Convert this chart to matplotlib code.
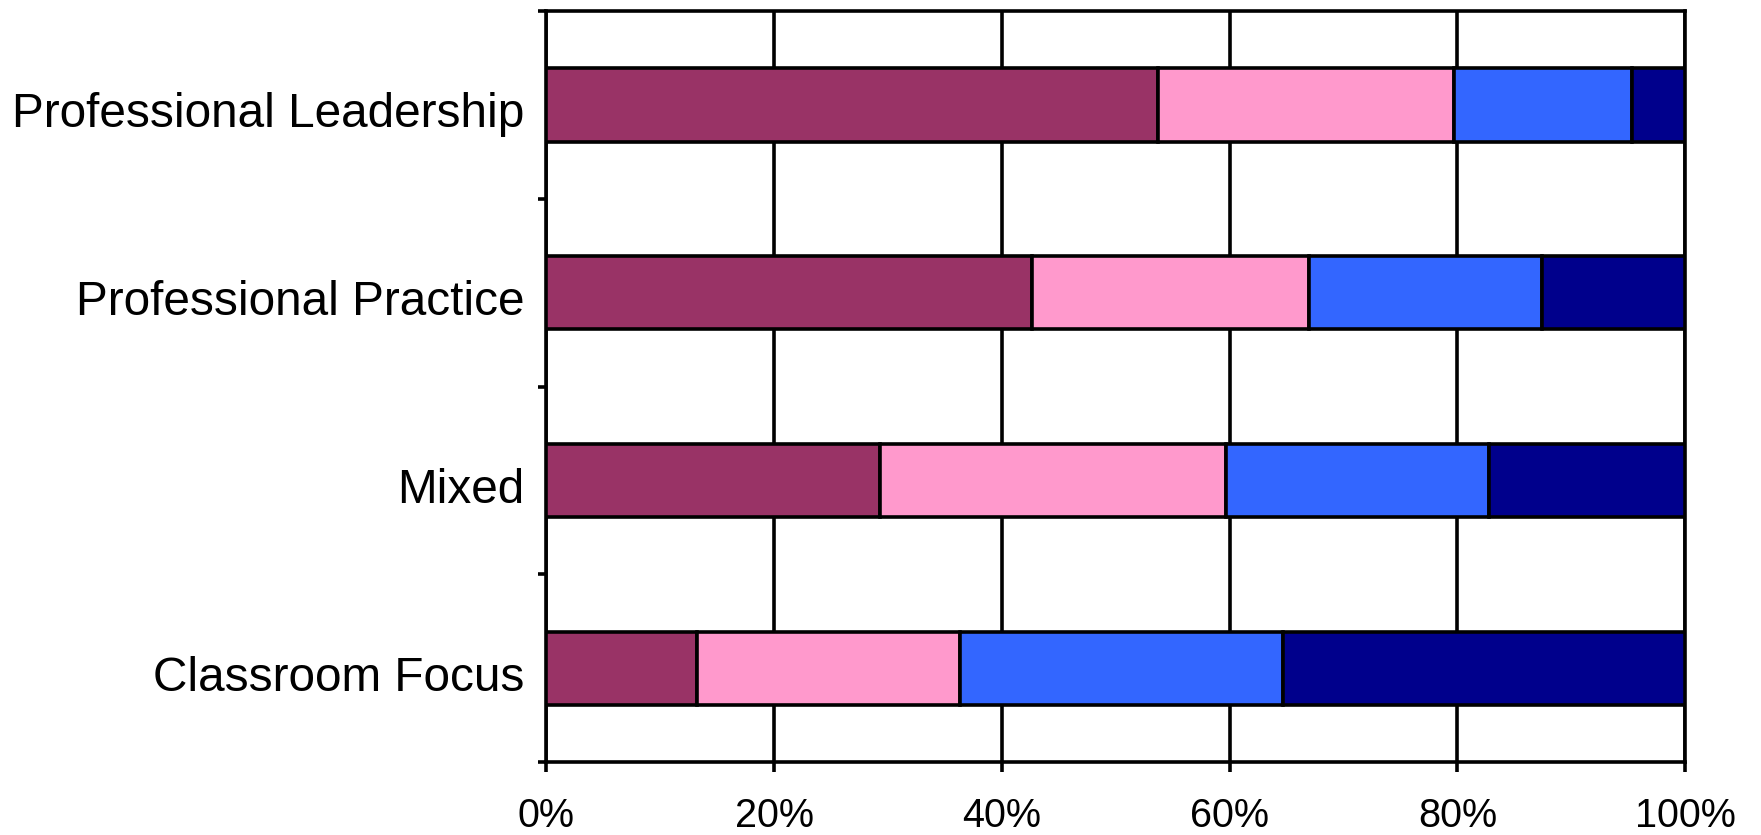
import matplotlib.pyplot as plt
import matplotlib.transforms as mtransforms
import numpy as np

plt.rcParams["font.family"] = ["Liberation Sans", "DejaVu Sans"]

# categories bottom to top
categories = ["Classroom Focus", "Mixed", "Professional Practice", "Professional Leadership"]

# share of each segment in percent
seg_maroon = [13.2, 29.3, 42.6, 53.7]
seg_pink = [23.1, 30.4, 24.4, 26.0]
seg_blue = [28.4, 23.1, 20.4, 15.6]
seg_navy = [35.3, 17.2, 12.6, 4.7]

colors = ["#993366", "#FF99CC", "#3366FF", "#00008C"]
xticks = [0, 20, 40, 60, 80, 100]
xtick_labels = ["0%", "20%", "40%", "60%", "80%", "100%"]


def main():
    fig = plt.figure(figsize=(17.61, 8.35), dpi=100)
    ax = fig.add_axes([0.3103, 0.0874, 0.9569 - 0.3103, 0.9868 - 0.0874])

    lw = 2.6
    y = np.arange(len(categories))
    left = np.zeros(len(categories))
    for seg, c in zip([seg_maroon, seg_pink, seg_blue, seg_navy], colors):
        ax.barh(y, seg, left=left, height=0.39, color=c,
                edgecolor="black", linewidth=lw, zorder=3)
        left += np.array(seg)

    ax.set_xlim(0, 100)
    ax.set_ylim(-0.5, len(categories) - 0.5)

    ax.set_xticks(xticks)
    ax.set_xticklabels(xtick_labels, fontsize=28.5)
    ax.set_yticks(y)
    ax.set_yticklabels(categories, fontsize=34.4)
    ax.set_yticks(np.arange(-0.5, len(categories), 1.0), minor=True)

    ax.tick_params(axis="x", direction="out", length=7, width=lw, pad=18)
    ax.tick_params(axis="y", which="major", length=0, pad=16)
    ax.tick_params(axis="y", which="minor", direction="out", length=6, width=lw)

    # nudge category labels down a little
    shift = mtransforms.ScaledTranslation(0, -5 / 100, fig.dpi_scale_trans)
    for lab in ax.get_yticklabels():
        lab.set_transform(lab.get_transform() + shift)

    ax.grid(True, axis="x", color="black", linewidth=lw, zorder=1)
    ax.set_axisbelow(True)
    for s in ax.spines.values():
        s.set_linewidth(lw)
        s.set_color("black")

    fig.savefig("out.png", dpi=100)


if __name__ == "__main__":
    main()
